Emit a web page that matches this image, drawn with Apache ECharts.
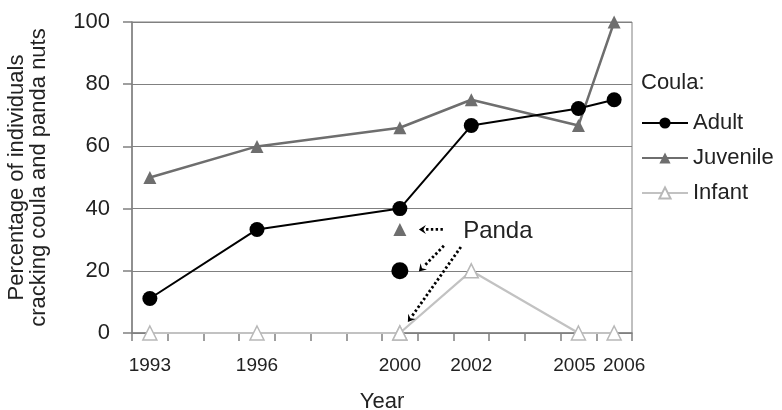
<!DOCTYPE html>
<html><head><meta charset="utf-8">
<script src="https://cdn.jsdelivr.net/npm/echarts@6/dist/echarts.min.js"></script>
<style>html,body{margin:0;padding:0;background:#fff}#c{width:782px;height:410px}</style>
</head><body><div id="c"></div>
<script>
// ---- data ----
const years = ['1993','1994','1995','1996','1997','1998','1999','2000','2001','2002','2003','2004','2005','2006'];
const labelYears = ['1993','1996','2000','2002','2005','2006'];
const surveyYears = ['1993','1996','2000','2002','2005','2006'];
const adult = [11.1, 33.3, 40, 66.7, 72.2, 75];
const juvenile = [50, 60, 66, 75, 66.7, 100];
const infant = [0, 0, 0, 20, 0, 0];
const pandaYear = '2000';
const pandaAdult = 20;
const pandaJuvenile = 33.3;
const pandaInfant = 0;
const yMin = 0, yMax = 100, yStep = 20;

const FONT = '"Liberation Sans", Arial, sans-serif';
const TXT = '#222';
const C_ADULT = '#000000', C_JUV = '#6e6e6e', C_INF = '#c2c2c2', C_AX = '#808080';

const pairs = vals => surveyYears.map((y, i) => [y, vals[i]]);
// small nudges so the last two tick labels don't collide (as in the reference)
const labelPad = {'2005': [0, 8, 0, 0], '2006': [0, 0, 0, 20]};
const xData = years.map(y => labelPad[y] ? {value: y, textStyle: {padding: labelPad[y]}} : y);

const chart = echarts.init(document.getElementById('c'), null, {renderer: 'canvas'});
chart.setOption({
  animation: false,
  backgroundColor: '#fff',
  textStyle: {fontFamily: FONT},
  grid: {left: 132, right: 150, top: 22, bottom: 77, show: true, borderColor: C_AX, borderWidth: 1,
         containLabel: false, outerBoundsMode: 'none'},
  legend: {
    data: ['Adult', 'Juvenile', 'Infant'],
    orient: 'vertical', left: 641, top: 112, padding: 0,
    itemWidth: 46, itemHeight: 14, itemGap: 13,
    textStyle: {fontFamily: FONT, fontSize: 22, color: TXT, lineHeight: 22},
    selectedMode: false
  },
  xAxis: {
    type: 'category', data: xData, boundaryGap: true,
    name: 'Year', nameLocation: 'middle', nameGap: 58,
    nameTextStyle: {fontFamily: FONT, fontSize: 22, color: TXT},
    axisLine: {lineStyle: {color: C_AX, width: 1.5}},
    axisTick: {show: true, interval: 0, length: 8, lineStyle: {color: C_AX, width: 1.5}},
    axisLabel: {interval: 0, margin: 23, fontFamily: FONT, fontSize: 19, color: TXT,
      formatter: v => labelYears.indexOf(v) >= 0 ? v : ''},
    splitLine: {show: false}
  },
  yAxis: {
    type: 'value', min: yMin, max: yMax, interval: yStep,
    name: 'Percentage of individuals\ncracking coula and panda nuts',
    nameLocation: 'middle', nameGap: 82, nameRotate: 90,
    nameTextStyle: {fontFamily: FONT, fontSize: 22, color: TXT, lineHeight: 22, align: 'center'},
    axisLine: {show: true, lineStyle: {color: C_AX, width: 1.5}},
    axisTick: {show: true, length: 9, lineStyle: {color: C_AX, width: 1.5}},
    axisLabel: {margin: 22, fontFamily: FONT, fontSize: 22, color: TXT},
    splitLine: {show: true, lineStyle: {color: C_AX, width: 1.2}}
  },
  series: [
    {name: 'Infant', type: 'line', data: pairs(infant), symbol: 'triangle', symbolSize: 14,
     lineStyle: {color: C_INF, width: 2.2}, itemStyle: {color: '#fff', borderColor: '#b8b8b8', borderWidth: 1.5},
     z: 2},
    {name: 'Juvenile', type: 'line', data: pairs(juvenile), symbol: 'triangle', symbolSize: 13,
     lineStyle: {color: C_JUV, width: 2.5}, itemStyle: {color: C_JUV}, z: 3},
    {name: 'Adult', type: 'line', data: pairs(adult), symbol: 'circle', symbolSize: 15,
     lineStyle: {color: C_ADULT, width: 2}, itemStyle: {color: C_ADULT}, z: 4},
    {name: 'PandaAdult', type: 'scatter', data: [[pandaYear, pandaAdult]], symbol: 'circle', symbolSize: 17,
     itemStyle: {color: C_ADULT, opacity: 1}, z: 5},
    {name: 'PandaJuvenile', type: 'scatter', data: [[pandaYear, pandaJuvenile]], symbol: 'triangle', symbolSize: 13,
     itemStyle: {color: C_JUV, opacity: 1}, z: 5},
    {name: 'PandaInfant', type: 'scatter', data: [[pandaYear, pandaInfant]], symbol: 'triangle', symbolSize: 14,
     itemStyle: {color: '#fff', borderColor: '#b8b8b8', borderWidth: 1.5, opacity: 1}, z: 5}
  ]
});

// ---- annotations (arrows and labels), placed relative to the panda points ----
const P = (y, v) => chart.convertToPixel({gridIndex: 0}, [y, v]);
const J = P(pandaYear, pandaJuvenile), A = P(pandaYear, pandaAdult), I = P(pandaYear, pandaInfant);
function arrow(tail, tip) {
  const dx = tip[0] - tail[0], dy = tip[1] - tail[1];
  const L = Math.hypot(dx, dy), ux = dx / L, uy = dy / L;
  const hl = 7, hw = 4.5;
  const bx = tip[0] - ux * hl, by = tip[1] - uy * hl;
  return [
    {type: 'line', shape: {x1: tail[0], y1: tail[1], x2: bx, y2: by},
     style: {stroke: '#000', lineWidth: 2.8, lineDash: [2.4, 2.4]}, z: 100},
    {type: 'polygon', shape: {points: [tip, [bx - uy * hw, by + ux * hw], [bx + ux * 2.5, by + uy * 2.5], [bx + uy * hw, by - ux * hw]]},
     style: {fill: '#000'}, z: 100}
  ];
}
const els = [].concat(
  arrow([J[0] + 43, J[1]], [J[0] + 19, J[1]]),
  arrow([A[0] + 44, A[1] - 25], [A[0] + 19, A[1] + 0.7]),
  arrow([I[0] + 61, I[1] - 86], [I[0] + 8, I[1] - 11]),
  [{type: 'text', x: J[0] + 98, y: J[1] + 2, z: 100,
    style: {text: 'Panda', font: '24px ' + FONT, fill: TXT, align: 'center', verticalAlign: 'middle'}},
   {type: 'text', left: 641, top: 72, z: 100,
    style: {text: 'Coula:', font: '22px ' + FONT, fill: TXT}}]
);
chart.setOption({graphic: els});
</script></body></html>
